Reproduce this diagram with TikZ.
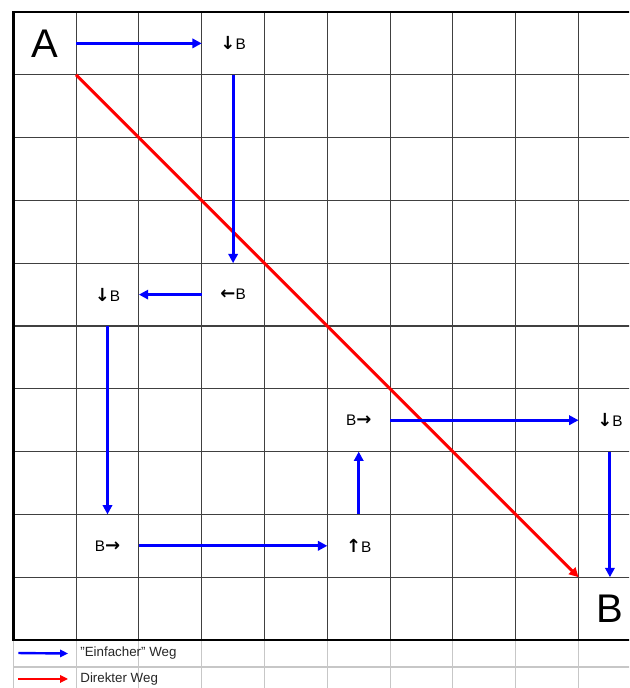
\documentclass[tikz,border=0pt]{standalone}
\usepackage{fontspec}
\setmainfont{Liberation Sans}
\newfontfamily\arrowglyphs{DejaVu Sans}
\usetikzlibrary{arrows.meta}
\newcommand{\dn}{{\arrowglyphs\bfseries\fontsize{13.5}{13}\selectfont ↓}}
\newcommand{\lf}{{\arrowglyphs\bfseries\fontsize{13.5}{13}\selectfont ←}}
\newcommand{\rt}{{\arrowglyphs\bfseries\fontsize{13.5}{13}\selectfont →}}
\newcommand{\up}{{\arrowglyphs\bfseries\fontsize{13.5}{13}\selectfont ↑}}
\begin{document}
\begin{tikzpicture}[x=47.1pt,y=-47.1pt,
  cell/.style={minimum width=47.1pt,minimum height=47.1pt,inner sep=0pt,outer sep=0pt,font=\fontsize{11.5}{13}\selectfont},
  corner/.style={cell,font=\fontsize{30}{34}\selectfont},
  gridline/.style={draw=black!75,line width=0.8pt},
  legline/.style={draw=black!22,line width=0.8pt},
  border/.style={draw=black,line width=1.8pt},
  blueway/.style={draw=blue,line width=2.2pt,-{Triangle[length=7pt,width=7pt]}},
  redway/.style={draw=red,line width=2.2pt,-{Triangle[length=7pt,width=7pt]}},
  legtext/.style={anchor=west,inner sep=3pt,text=black!85,font=\fontsize{10}{12}\selectfont}]
\useasboundingbox (-0.2118,-0.191) rectangle (9.8041,10.764);
\clip (-0.2118,-0.191) rectangle (9.8041,10.764);

\foreach \i in {0,...,10} \draw[legline] (\i,10) -- (\i,10.9);
\draw[legline] (0,10.43) -- (10,10.43);
\foreach \i in {1,...,9} {
  \draw[gridline] (\i,0) -- (\i,10);
  \draw[gridline] (0,\i) -- (10,\i);
}
\draw[border] (10,0) -- (0,0) -- (0,10) -- (10,10);

\node[corner] (A) at (0.5,0.5) {A};
\node[corner] (B) at (9.5,9.5) {B};
\node[cell] (s1) at (3.5,0.5) {\dn B};
\node[cell] (s2) at (3.5,4.5) {\lf B};
\node[cell] (s3) at (1.5,4.5) {\dn B};
\node[cell] (s4) at (1.5,8.5) {B\rt};
\node[cell] (s5) at (5.5,8.5) {\up B};
\node[cell] (s6) at (5.5,6.5) {B\rt};
\node[cell] (s7) at (9.5,6.5) {\dn B};

\draw[redway] (A.south east) -- (B.north west);

\draw[blueway] (A.east) -- (s1.west);
\draw[blueway] (s1.south) -- (s2.north);
\draw[blueway] (s2.west) -- (s3.east);
\draw[blueway] (s3.south) -- (s4.north);
\draw[blueway] (s4.east) -- (s5.west);
\draw[blueway] (s5.north) -- (s6.south);
\draw[blueway] (s6.east) -- (s7.west);
\draw[blueway] (s7.south) -- (B.north);

\node[legtext] (leg1) at (1,10.215) {"Einfacher" Weg};
\node[legtext] (leg2) at (1,10.62) {Direkter Weg};
\coordinate (leg1s) at (0.08,10.207);
\coordinate (leg2s) at (0.08,10.62);
\draw[blueway,line width=1.8pt,-{Triangle[length=6pt,width=5.5pt]}] (leg1s) -- ([xshift=-6pt]leg1.west);
\draw[redway,line width=1.8pt,-{Triangle[length=6pt,width=5.5pt]}] (leg2s) -- ([xshift=-6pt]leg2.west);
\end{tikzpicture}
\end{document}
